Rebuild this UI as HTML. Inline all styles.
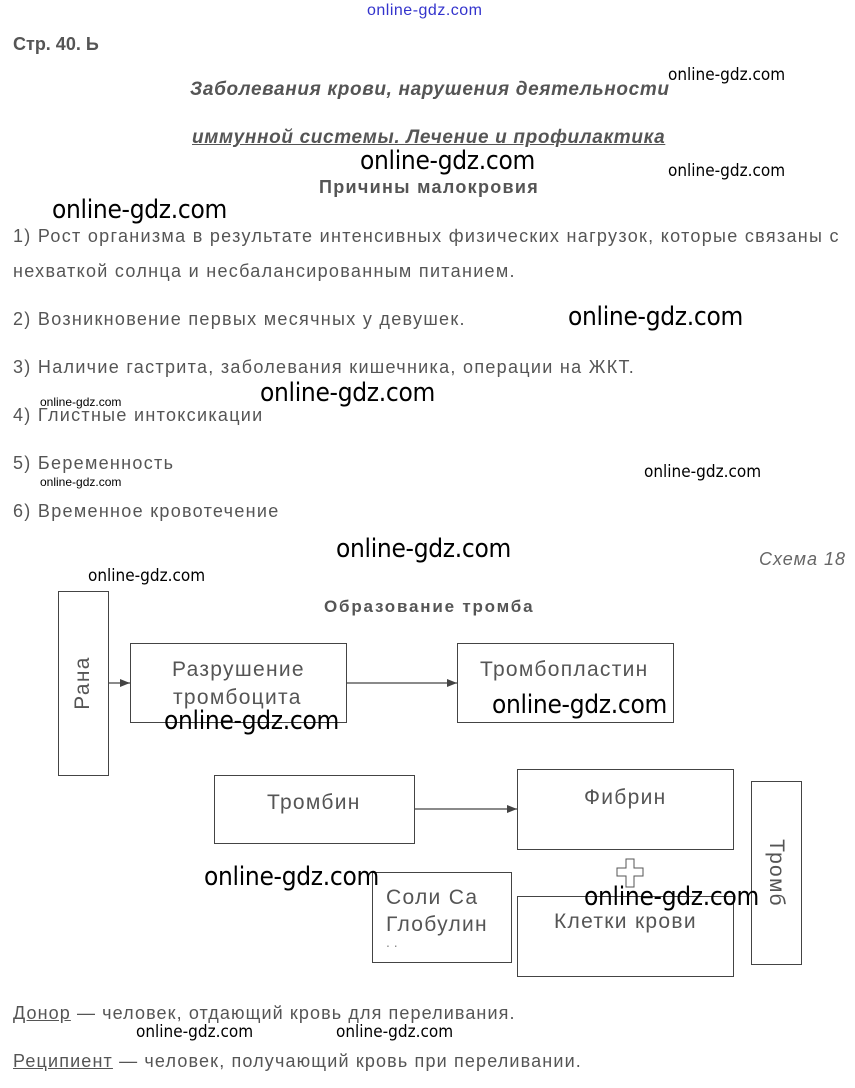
<!DOCTYPE html>
<html><head><meta charset="utf-8"><style>
body{margin:0;width:855px;height:1088px;background:#fff;position:relative;overflow:hidden;font-family:"Liberation Sans",sans-serif;color:#555}
.a{position:absolute;white-space:nowrap}
.t{font-size:18px;letter-spacing:1.3px}
.w{font-family:"DejaVu Sans Condensed","Liberation Sans",sans-serif;color:#000;font-size:26px;position:absolute;white-space:nowrap;letter-spacing:-0.3px}
.ws{font-family:"DejaVu Sans Condensed","Liberation Sans",sans-serif;color:#000;font-size:17px;position:absolute;white-space:nowrap}
.b{position:absolute;border:1px solid #444;box-sizing:border-box;background:#fff}
.d{font-size:21px;color:#555;position:absolute;white-space:nowrap;letter-spacing:1.3px}
</style></head><body>
<div class="a" style="left:367px;top:2px;font-size:16px;color:#33c;letter-spacing:0.5px">online-gdz.com</div>
<div class="a" style="left:13px;top:34px;font-size:18px;font-weight:bold;color:#555">Стр. 40. Ь</div>
<div class="a" style="left:190px;top:79px;font-size:19px;font-weight:bold;font-style:italic;color:#555;letter-spacing:0.65px">Заболевания крови, нарушения деятельности</div>
<div class="a" style="left:192px;top:127px;font-size:19px;font-weight:bold;font-style:italic;color:#555;text-decoration:underline;letter-spacing:0.65px">иммунной системы. Лечение и профилактика</div>
<div class="ws" style="left:668px;top:65px">online-gdz.com</div>
<div class="ws" style="left:668px;top:161px">online-gdz.com</div>
<div class="w" style="left:360px;top:146px">online-gdz.com</div>
<div class="a" style="left:319px;top:177px;font-size:18px;font-weight:bold;color:#555;letter-spacing:1.3px">Причины малокровия</div>
<div class="w" style="left:52px;top:195px">online-gdz.com</div>
<div class="a t" style="left:13px;top:226px">1) Рост организма в результате интенсивных физических нагрузок, которые связаны с</div>
<div class="a t" style="left:13px;top:261px">нехваткой солнца и несбалансированным питанием.</div>
<div class="a t" style="left:13px;top:309px">2) Возникновение первых месячных у девушек.</div>
<div class="w" style="left:568px;top:302px">online-gdz.com</div>
<div class="a t" style="left:13px;top:357px">3) Наличие гастрита, заболевания кишечника, операции на ЖКТ.</div>
<div class="w" style="left:260px;top:378px">online-gdz.com</div>
<div class="a t" style="left:13px;top:405px">4) Глистные интоксикации</div>
<div class="a" style="left:40px;top:395px;font-size:12px;color:#000">online-gdz.com</div>
<div class="a t" style="left:13px;top:453px">5) Беременность</div>
<div class="a" style="left:40px;top:475px;font-size:12px;color:#000">online-gdz.com</div>
<div class="ws" style="left:644px;top:462px">online-gdz.com</div>
<div class="a t" style="left:13px;top:501px">6) Временное кровотечение</div>
<div class="w" style="left:336px;top:534px">online-gdz.com</div>
<div class="a" style="left:759px;top:549px;font-size:18px;font-style:italic;color:#666;letter-spacing:1px">Схема 18</div>
<div class="ws" style="left:88px;top:566px">online-gdz.com</div>
<div class="a" style="left:324px;top:597px;font-size:17px;font-weight:bold;color:#555;letter-spacing:1.8px">Образование тромба</div>

<svg class="a" style="left:0;top:0" width="855" height="1088">
<defs><marker id="m" markerWidth="10" markerHeight="8" refX="10" refY="4" orient="auto" markerUnits="userSpaceOnUse"><path d="M0,0L10,4L0,8z" fill="#444"/></marker></defs>
<line x1="108" y1="683" x2="130" y2="683" stroke="#444" stroke-width="1.2" marker-end="url(#m)"/>
<line x1="346" y1="683" x2="457" y2="683" stroke="#444" stroke-width="1.2" marker-end="url(#m)"/>
<line x1="414" y1="809" x2="517" y2="809" stroke="#444" stroke-width="1.2" marker-end="url(#m)"/>
<path d="M626,859h8v9h9v8h-9v11h-8v-11h-9v-8h9z" fill="#fff" stroke="#555" stroke-width="1"/>
</svg>

<div class="b" style="left:58px;top:591px;width:51px;height:185px"></div>
<div class="d" style="left:83px;top:683px;transform:translate(-50%,-50%) rotate(-90deg)">Рана</div>
<div class="b" style="left:130px;top:643px;width:217px;height:80px"></div>
<div class="d" style="left:172px;top:658px">Разрушение</div>
<div class="d" style="left:173px;top:686px">тромбоцита</div>
<div class="b" style="left:457px;top:643px;width:217px;height:80px"></div>
<div class="d" style="left:480px;top:658px">Тромбопластин</div>
<div class="w" style="left:164px;top:706px">online-gdz.com</div>
<div class="w" style="left:492px;top:690px">online-gdz.com</div>
<div class="b" style="left:214px;top:775px;width:201px;height:69px"></div>
<div class="d" style="left:267px;top:791px">Тромбин</div>
<div class="b" style="left:517px;top:769px;width:217px;height:81px"></div>
<div class="d" style="left:584px;top:786px">Фибрин</div>
<div class="b" style="left:751px;top:781px;width:51px;height:184px"></div>
<div class="d" style="left:776px;top:873px;transform:translate(-50%,-50%) rotate(90deg)">Тромб</div>
<div class="b" style="left:372px;top:872px;width:140px;height:91px"></div>
<div class="d" style="left:386px;top:886px">Соли Са</div>
<div class="d" style="left:386px;top:913px">Глобулин</div>
<div class="a" style="left:386px;top:934px;font-size:14px;color:#888">. .</div>
<div class="b" style="left:517px;top:896px;width:217px;height:81px"></div>
<div class="d" style="left:554px;top:910px">Клетки крови</div>
<div class="w" style="left:204px;top:862px">online-gdz.com</div>
<div class="w" style="left:584px;top:882px">online-gdz.com</div>

<div class="a t" style="left:13px;top:1003px;letter-spacing:1.1px"><span style="text-decoration:underline">Донор</span> — человек, отдающий кровь для переливания.</div>
<div class="ws" style="left:136px;top:1022px">online-gdz.com</div>
<div class="ws" style="left:336px;top:1022px">online-gdz.com</div>
<div class="a t" style="left:13px;top:1051px;letter-spacing:1.15px"><span style="text-decoration:underline">Реципиент</span> — человек, получающий кровь при переливании.</div>
</body></html>
